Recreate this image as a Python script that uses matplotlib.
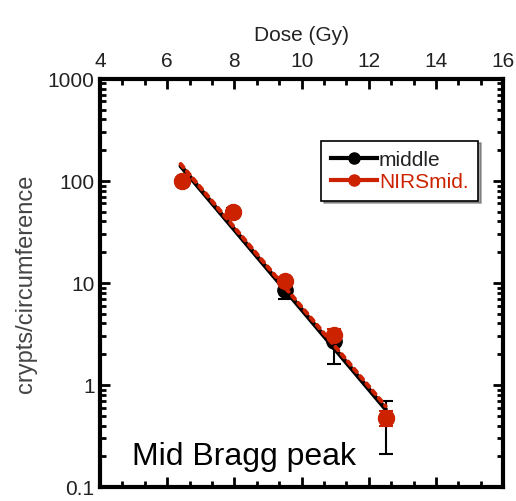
import matplotlib
matplotlib.use("Agg")
import matplotlib.pyplot as plt
from matplotlib.ticker import AutoMinorLocator, LogLocator, NullFormatter, FixedLocator, FixedFormatter

plt.rcParams['font.family'] = ['Liberation Sans', 'DejaVu Sans']

# measured points (dose in Gy, crypts/circumference)
dose = [6.45, 7.95, 9.5, 10.95, 12.5]
middle = [100, 50, 8.5, 2.7, 0.47]
middle_lo = [95, 46, 7.0, 1.6, 0.21]
middle_hi = [106, 54, 10.0, 3.3, 0.70]
nirs = [100, 49, 10.5, 3.1, 0.47]
nirs_lo = [95, 45, 9.6, 2.8, 0.40]
nirs_hi = [106, 53, 11.5, 3.5, 0.55]

# fitted lines (end points)
fit_dose = [6.4, 12.5]
fit_middle = [140, 0.58]
fit_nirs = [146, 0.62]

x_ticks = [4, 6, 8, 10, 12, 14, 16]
y_ticks = [0.1, 1, 10, 100, 1000]
y_labels = ["0.1", "1", "10", "100", "1000"]

fig = plt.figure(figsize=(5.16, 5.02), dpi=100)
ax = fig.add_axes([0.194, 0.028, 0.781, 0.813])

black = "#000000"
red = "#cc2200"

mid_err = [[m - lo for m, lo in zip(middle, middle_lo)],
           [hi - m for m, hi in zip(middle, middle_hi)]]
nirs_err = [[m - lo for m, lo in zip(nirs, nirs_lo)],
            [hi - m for m, hi in zip(nirs, nirs_hi)]]

ax.plot(fit_dose, fit_middle, color=black, lw=3.2, solid_capstyle="round", zorder=2)
ax.errorbar(dose, middle, yerr=mid_err, fmt="o", color=black, ms=11,
            elinewidth=1.5, capsize=5, capthick=1.5, zorder=3)
ax.plot(fit_dose, fit_nirs, color=red, lw=3, linestyle=(0, (1, 1.3)),
        dash_capstyle="round", zorder=4)
ax.errorbar(dose, nirs, yerr=nirs_err, fmt="o", color=red, ms=11.5,
            elinewidth=1.5, capsize=5, capthick=1.5, zorder=5)

# legend handles
h1, = ax.plot([], [], "-o", color=black, lw=3, ms=8)
h2, = ax.plot([], [], "-o", color=red, lw=3, ms=8)
leg = ax.legend([h1, h2], ["middle", "NIRSmid."], loc="upper right",
                bbox_to_anchor=(0.963, 0.874), fontsize=15, handlelength=2.2,
                handletextpad=0.1, borderpad=0.45, labelspacing=0.15,
                fancybox=False, shadow=True, frameon=True)
leg.get_frame().set_edgecolor("black")
leg.get_frame().set_linewidth(1.2)
leg.get_texts()[0].set_color("#222222")
leg.get_texts()[1].set_color(red)

ax.set_yscale("log")
ax.set_xlim(4, 16)
ax.set_ylim(0.1, 1000)

ax.xaxis.set_major_locator(FixedLocator(x_ticks))
ax.xaxis.set_minor_locator(AutoMinorLocator(3))
ax.yaxis.set_major_locator(FixedLocator(y_ticks))
ax.yaxis.set_major_formatter(FixedFormatter(y_labels))
ax.yaxis.set_minor_locator(LogLocator(base=10, subs=range(2, 10)))
ax.yaxis.set_minor_formatter(NullFormatter())

ax.xaxis.tick_top()
ax.xaxis.set_label_position("top")
ax.tick_params(which="both", direction="in", top=True, bottom=True,
               left=True, right=True, width=2, labelsize=15, colors="black")
ax.tick_params(which="major", length=7)
ax.tick_params(which="minor", length=4)
ax.tick_params(axis="x", labelcolor="#222222", pad=6)
ax.tick_params(axis="y", labelcolor="#222222", pad=4)
for sp in ax.spines.values():
    sp.set_linewidth(3)

ax.set_xlabel("Dose (Gy)", fontsize=15, labelpad=8, color="#222222")
ax.set_ylabel("crypts/circumference", fontsize=17, labelpad=8, color="#444444")

ax.text(0.08, 0.055, "Mid Bragg peak", transform=ax.transAxes, fontsize=23,
        color="black")

fig.savefig("out.png", dpi=100)
